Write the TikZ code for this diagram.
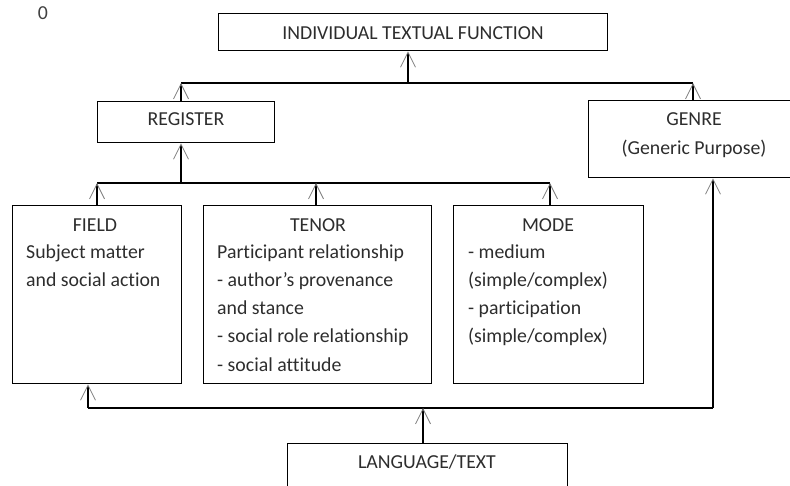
\documentclass[tikz,border=0pt]{standalone}
\usepackage{fontspec}
\setmainfont{Carlito}[Ligatures=CommonOff]
\usetikzlibrary{arrows.meta}
\definecolor{txt}{RGB}{45,45,45}
\tikzset{
  box/.style={draw=black, line width=1.3pt, inner sep=0pt, anchor=north west},
  conn/.style={draw=black, line width=1.3pt},
  arr/.style={-{Straight Barb[length=15pt,width=15pt,line width=0.8pt,color=black!50]}},
  lbl/.style={text=txt, inner sep=0pt, anchor=base, font=\fontsize{19.8}{28}\selectfont},
  lbll/.style={lbl, anchor=base west}
}
\begin{document}
\begin{tikzpicture}[x=1pt,y=-1pt]
\useasboundingbox (0,0) rectangle (790,486);
% boxes
\node[box, minimum width=389pt, minimum height=37pt] (itf) at (218,13) {};
\node[box, minimum width=177pt, minimum height=41pt] (reg) at (97,101) {};
\node[box, minimum width=220pt, minimum height=77pt] (genre) at (588,100) {};
\node[box, minimum width=169pt, minimum height=178pt] (field) at (12,205) {};
\node[box, minimum width=228pt, minimum height=178pt] (tenor) at (203,205) {};
\node[box, minimum width=190pt, minimum height=178pt] (mode) at (453,205) {};
\node[box, minimum width=280pt, minimum height=70pt] (lt) at (287,443) {};
% texts
\node[lbl, text=black!75] (zero) at (43,20) {0};
\node[lbl] (itft) at (413,40) {INDIVIDUAL TEXTUAL FUNCTION};
\node[lbl] (regt) at (186,126) {REGISTER};
\node[lbl] (genret) at (694,126) {GENRE};
\node[lbl] (genres) at (694,155) {(Generic Purpose)};
\node[lbl] (fieldt) at (95,232) {FIELD};
\node[lbll] (field1) at (26,259) {Subject matter};
\node[lbll] (field2) at (26,287) {and social action};
\node[lbl] (tenort) at (318,232) {TENOR};
\node[lbll] (tenor1) at (217,259) {Participant relationship};
\node[lbll] (tenor2) at (217,287) {- author’s provenance};
\node[lbll] (tenor3) at (217,315) {and stance};
\node[lbll] (tenor4) at (217,343) {- social role relationship};
\node[lbll] (tenor5) at (217,371) {- social attitude};
\node[lbl] (modet) at (548,232) {MODE};
\node[lbll] (mode1) at (468,259) {- medium};
\node[lbll] (mode2) at (468,287) {(simple/complex)};
\node[lbll] (mode3) at (468,315) {- participation};
\node[lbll] (mode4) at (468,343) {(simple/complex)};
\node[lbl] (ltt) at (427,468) {LANGUAGE/TEXT};
% junction coordinates
\coordinate (tl) at (181,83);
\coordinate (tm) at (408,83);
\coordinate (tr) at (693,83);
\coordinate (ml) at (97,183);
\coordinate (mm) at (181,183);
\coordinate (mt) at (316,183);
\coordinate (mr) at (550,183);
\coordinate (bl) at (88,408);
\coordinate (bm) at (423,408);
\coordinate (br) at (713,408);
% connectors: top
\draw[conn] (tl) -- (tr);
\draw[conn,arr] (tm) -- (itf.south -| tm);
\draw[conn,arr] (reg.north -| tl) -- (tl);
\draw[conn,arr] (genre.north -| tr) -- (tr);
% middle
\draw[conn] (ml) -- (mr);
\draw[conn,arr] (mm) -- (reg.south -| mm);
\draw[conn,arr] (field.north -| ml) -- (ml);
\draw[conn,arr] (tenor.north -| mt) -- (mt);
\draw[conn,arr] (mode.north -| mr) -- (mr);
% bottom
\draw[conn] (bl) -- (br);
\draw[conn,arr] (lt.north -| bm) -- (bm);
\draw[conn,arr] (bl) -- (field.south -| bl);
\draw[conn,arr] (br) -- (genre.south -| br);
\end{tikzpicture}
\end{document}
